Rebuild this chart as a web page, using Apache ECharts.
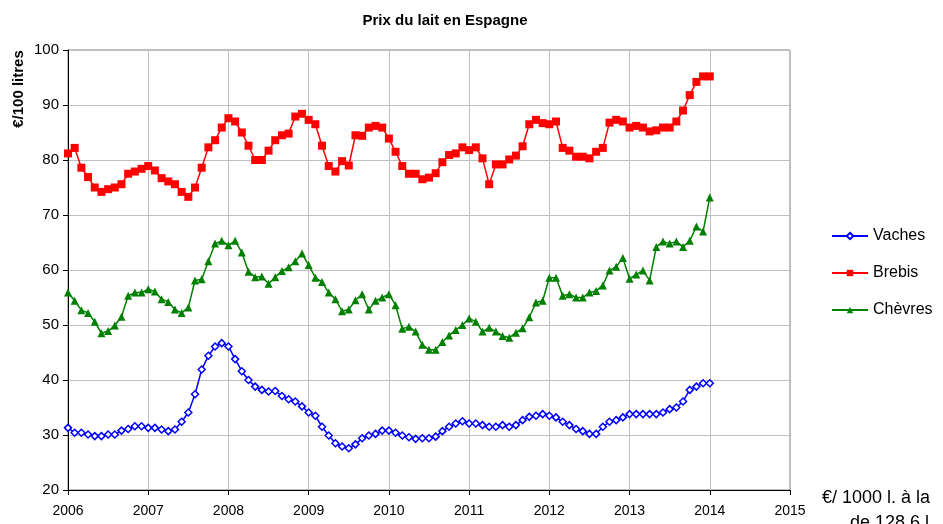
<!DOCTYPE html>
<html>
<head>
<meta charset="utf-8">
<script src="https://cdn.jsdelivr.net/npm/echarts@6/dist/echarts.min.js"></script>
<style>
  html, body { margin: 0; padding: 0; background: #fff; }
  #chart { width: 943px; height: 524px; }
</style>
</head>
<body>
<div id="chart"></div>
<script>
// monthly prices, Jan 2006 .. Jan 2014 (€/100 litres)
const startYear = 2006
const vaches = [
  31.3, 30.4, 30.4, 30.1, 29.8, 29.8, 30.1, 30.1, 30.8, 31.1, 31.6, 31.6,
  31.3, 31.3, 31.0, 30.7, 31.0, 32.4, 34.1, 37.4, 41.9, 44.4, 46.1, 46.7,
  46.1, 43.8, 41.6, 40.0, 38.8, 38.2, 37.9, 38.0, 37.1, 36.5, 36.1, 35.2,
  34.1, 33.5, 31.5, 29.9, 28.5, 27.9, 27.6, 28.3, 29.4, 29.9, 30.2, 30.8,
  30.8, 30.4, 29.9, 29.6, 29.3, 29.4, 29.4, 29.7, 30.7, 31.5, 32.1, 32.5,
  32.1, 32.1, 31.8, 31.5, 31.5, 31.8, 31.5, 31.8, 32.7, 33.3, 33.5, 33.8,
  33.5, 33.2, 32.4, 31.8, 31.1, 30.7, 30.2, 30.2, 31.5, 32.4, 32.7, 33.2,
  33.8, 33.8, 33.8, 33.8, 33.8, 34.1, 34.7, 35.0, 36.1, 38.2, 38.8, 39.4,
  39.4
]
const brebis = [
  81.2, 82.2, 78.6, 76.9, 75.0, 74.2, 74.7, 75.0, 75.6, 77.5, 77.9, 78.4,
  78.9, 78.1, 76.7, 76.1, 75.6, 74.2, 73.3, 75.0, 78.6, 82.3, 83.6, 85.9,
  87.6, 87.0, 85.0, 82.6, 80.0, 80.0, 81.7, 83.6, 84.5, 84.8, 87.9, 88.4,
  87.3, 86.5, 82.6, 78.9, 77.9, 79.8, 79.0, 84.5, 84.4, 85.9, 86.2, 85.9,
  83.9, 81.5, 78.9, 77.5, 77.5, 76.5, 76.8, 77.6, 79.6, 80.9, 81.2, 82.3,
  81.8, 82.3, 80.3, 75.6, 79.2, 79.2, 80.1, 80.8, 82.5, 86.5, 87.3, 86.7,
  86.5, 87.0, 82.2, 81.7, 80.6, 80.6, 80.3, 81.5, 82.2, 86.8, 87.3, 87.0,
  85.9, 86.2, 85.9, 85.2, 85.4, 85.9, 85.9, 87.0, 89.0, 91.8, 94.2, 95.2,
  95.2
]
const chevres = [
  55.9, 54.4, 52.7, 52.2, 50.6, 48.5, 48.9, 49.9, 51.5, 55.3, 55.9, 55.9,
  56.5, 56.1, 54.7, 54.2, 52.8, 52.2, 53.2, 58.1, 58.3, 61.6, 64.8, 65.3,
  64.5, 65.3, 63.2, 59.7, 58.7, 58.8, 57.5, 58.7, 59.8, 60.5, 61.6, 63.0,
  60.9, 58.6, 57.8, 55.9, 54.7, 52.5, 52.8, 54.5, 55.6, 52.8, 54.4, 55.0,
  55.6, 53.6, 49.3, 49.7, 48.8, 46.4, 45.5, 45.5, 46.9, 48.1, 49.1, 50.0,
  51.2, 50.6, 48.8, 49.5, 48.8, 48.0, 47.7, 48.6, 49.4, 51.4, 54.1, 54.4,
  58.6, 58.6, 55.3, 55.6, 55.0, 55.0, 55.9, 56.2, 57.2, 59.9, 60.6, 62.2,
  58.4, 59.2, 59.9, 58.1, 64.2, 65.2, 64.8, 65.2, 64.2, 65.3, 67.9, 67.0,
  73.2
]

const toPoints = arr => arr.map((v, i) => [startYear + i / 12, v])

const chart = echarts.init(document.getElementById('chart'))

const font = 'Liberation Sans, Arial, sans-serif'

const option = {
  animation: false,
  backgroundColor: '#fff',
  title: {
    text: 'Prix du lait en Espagne',
    left: 440,
    top: 8,
    textAlign: 'center',
    textStyle: { fontFamily: font, fontSize: 15, fontWeight: 'bold', color: '#000' }
  },
  legend: {
    orient: 'vertical',
    left: 826,
    top: 223,
    itemGap: 21,
    itemWidth: 36,
    itemHeight: 8,
    textStyle: { fontFamily: font, fontSize: 16, color: '#000' },
    data: ['Vaches', 'Brebis', 'Chèvres']
  },
  grid: { left: 68, right: 153, top: 50, bottom: 34, show: true, borderColor: '#808080', borderWidth: 1 },
  xAxis: {
    type: 'value',
    min: 2006,
    max: 2015,
    interval: 1,
    axisLine: { lineStyle: { color: '#000', width: 1 } },
    axisTick: { show: true, length: 5, lineStyle: { color: '#000' } },
    axisLabel: { color: '#000', fontFamily: font, fontSize: 14, margin: 14, formatter: v => String(v) },
    splitLine: { show: true, lineStyle: { color: '#c0c0c0' } }
  },
  yAxis: {
    type: 'value',
    min: 20,
    max: 100,
    interval: 10,
    axisLine: { show: true, lineStyle: { color: '#000', width: 1 } },
    axisTick: { show: true, length: 5, lineStyle: { color: '#000' } },
    axisLabel: { color: '#000', fontFamily: font, fontSize: 15, margin: 9 },
    splitLine: { show: true, lineStyle: { color: '#c0c0c0' } }
  },
  graphic: [
    {
      type: 'text',
      x: 19, y: 89,
      rotation: Math.PI / 2,
      style: {
        text: '€/100 litres',
        fill: '#000',
        font: 'bold 15px ' + font,
        align: 'center',
        verticalAlign: 'middle'
      }
    },
    {
      type: 'text',
      x: 822, y: 489,
      style: { text: '€/ 1000 l. à la', fill: '#000', font: '18px ' + font }
    },
    {
      type: 'text',
      x: 850, y: 514,
      style: { text: 'de 128,6 l.', fill: '#000', font: '18px ' + font }
    }
  ],
  series: [
    {
      name: 'Vaches',
      type: 'line',
      data: toPoints(vaches),
      symbol: 'diamond',
      symbolSize: 7,
      color: '#0000ff',
      itemStyle: { color: '#fff', borderColor: '#0000ff', borderWidth: 1.5 },
      lineStyle: { color: '#0000ff', width: 1.5 },
      z: 3
    },
    {
      name: 'Brebis',
      type: 'line',
      data: toPoints(brebis),
      symbol: 'rect',
      symbolSize: 8,
      color: '#ff0000',
      itemStyle: { color: '#ff0000' },
      lineStyle: { color: '#ff0000', width: 1.5 }
    },
    {
      name: 'Chèvres',
      type: 'line',
      data: toPoints(chevres),
      symbol: 'triangle',
      symbolSize: 8,
      color: '#008000',
      itemStyle: { color: '#008000' },
      lineStyle: { color: '#008000', width: 1.5 }
    }
  ]
}

chart.setOption(option)
</script>
</body>
</html>
